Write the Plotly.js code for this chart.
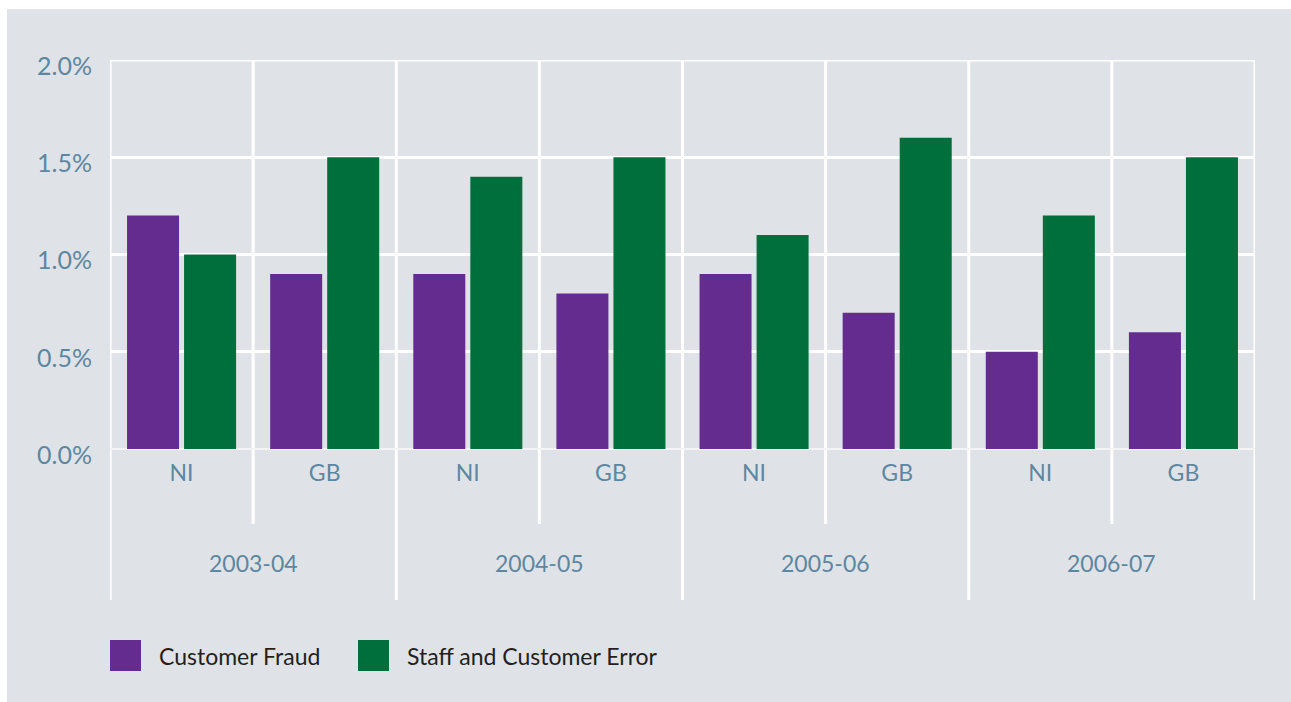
<!DOCTYPE html>
<html>
<head>
<meta charset="utf-8">
<script src="https://cdn.plot.ly/plotly-3.0.1.min.js"></script>
<style>
  html, body { margin: 0; padding: 0; background: #ffffff; }
  #chart { position: absolute; left: 7px; top: 9px; width: 1284px; height: 693px; }
</style>
</head>
<body>
<div id="chart"></div>
<script>
// ---- data ----
const years = ["2003-04", "2004-05", "2005-06", "2006-07"];
const regions = ["NI", "GB"];
const seriesNames = ["Customer Fraud", "Staff and Customer Error"];
const customerFraud = [1.2, 0.9, 0.9, 0.8, 0.9, 0.7, 0.5, 0.6];
const staffError = [1.0, 1.5, 1.4, 1.5, 1.1, 1.6, 1.2, 1.5];
const yTickVals = [0, 0.5, 1.0, 1.5, 2.0];

// ---- styling ----
const purple = "#652c8f";
const green = "#006f3b";
const bg = "#dfe3e7";
const tickColor = "#5d87a1";
const legendColor = "#231f20";
const fontFam = "Lato, 'Open Sans', sans-serif";

// positions derived from data indices
const xIdx = [];
const xLabels = [];
years.forEach((y, i) => regions.forEach((r, j) => { xIdx.push(i * regions.length + j); xLabels.push(r); }));

const traces = [
  { type: "bar", x: xIdx, y: customerFraud, name: seriesNames[0], marker: { color: purple }, showlegend: false, hoverinfo: "y" },
  { type: "bar", x: xIdx, y: staffError, name: seriesNames[1], marker: { color: green }, showlegend: false, hoverinfo: "y" }
];

const shapes = [];
const nCats = xIdx.length;
for (let k = 0; k <= nCats; k++) {
  const isYearBoundary = (k % regions.length === 0);
  shapes.push({
    type: "line", xref: "x", yref: "paper",
    x0: k - 0.5, x1: k - 0.5,
    y0: 1, y1: isYearBoundary ? -0.388 : -0.193,
    line: { color: "#ffffff", width: 3 }, layer: "below"
  });
}
// top gridline (2.0%)
shapes.push({ type: "line", xref: "paper", yref: "y", x0: 0, x1: 1, y0: 2, y1: 2, line: { color: "#ffffff", width: 3 }, layer: "below" });

// legend swatches
const swatchColors = [purple, green];
const swatchX = [0.0, 0.2166];
const swW = 31 / 1145;
swatchColors.forEach((c, i) => {
  shapes.push({ type: "rect", xref: "paper", yref: "paper",
    x0: swatchX[i], x1: swatchX[i] + swW, y0: -0.571, y1: -0.491,
    fillcolor: c, line: { width: 0 } });
});

const annotations = [];
years.forEach((y, i) => {
  annotations.push({
    xref: "x", yref: "paper", x: i * regions.length + (regions.length - 1) / 2, y: -0.293,
    text: y, showarrow: false, xanchor: "center", yanchor: "middle",
    font: { family: fontFam, size: 23, color: tickColor }
  });
});
const legendTextX = [0.041, 0.2576];
seriesNames.forEach((n, i) => {
  annotations.push({
    xref: "paper", yref: "paper", x: legendTextX[i], y: -0.531,
    text: n, showarrow: false, xanchor: "left", yanchor: "middle",
    font: { family: fontFam, size: 23, color: legendColor }
  });
});

const layout = {
  width: 1284, height: 693,
  paper_bgcolor: bg, plot_bgcolor: bg,
  margin: { l: 103, r: 36, t: 51, b: 253 },
  barmode: "group", bargap: 0.203, bargroupgap: 0.088,
  font: { family: fontFam, color: tickColor },
  xaxis: {
    range: [-0.5, nCats - 0.5], tickmode: "array", tickvals: xIdx, ticktext: xLabels,
    showgrid: false, zeroline: false, showline: false, ticks: "",
    tickfont: { family: fontFam, size: 23, color: tickColor },
    ticklabelstandoff: 8, fixedrange: true
  },
  yaxis: {
    range: [0, 2], tickmode: "array", tickvals: yTickVals,
    ticktext: yTickVals.map(v => v.toFixed(1) + "%"),
    showgrid: true, gridcolor: "#ffffff", gridwidth: 3,
    zeroline: true, zerolinecolor: "#f3f4f6", zerolinewidth: 1.5,
    showline: false, ticks: "",
    tickfont: { family: fontFam, size: 25, color: tickColor },
    ticklabelstandoff: 17, ticklabelshift: 6, fixedrange: true
  },
  shapes: shapes,
  annotations: annotations,
  showlegend: false
};

Plotly.newPlot("chart", traces, layout, { displayModeBar: false, staticPlot: true });
</script>
</body>
</html>
